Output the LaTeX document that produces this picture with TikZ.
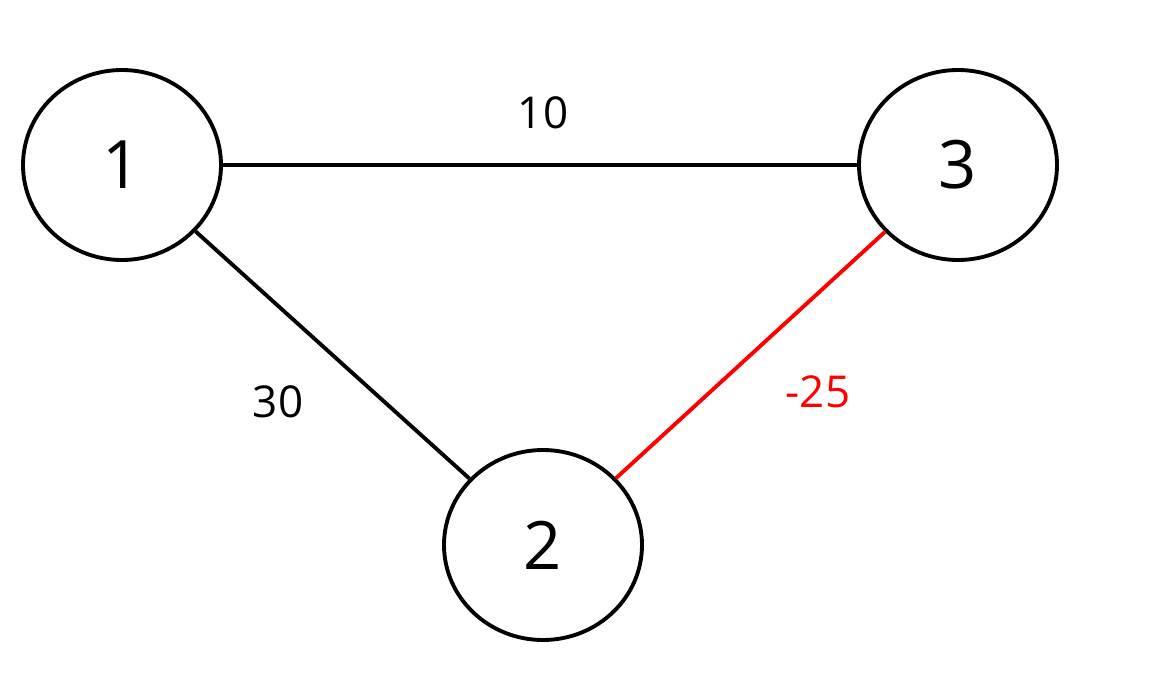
\documentclass[tikz,border=0pt]{standalone}
\usepackage{fontspec}
\setmainfont{Open Sans}
\usetikzlibrary{shapes.geometric}
\definecolor{rojoArista}{RGB}{255,0,0}

\begin{document}
\begin{tikzpicture}[
  vertice/.style={draw=black, ellipse, line width=2.2pt,
                  minimum width=3.96cm, minimum height=3.8cm,
                  inner sep=0pt, font=\fontsize{38}{40}\selectfont},
  arista/.style={draw=black, line width=2.2pt},
  peso/.style={font=\fontsize{25}{28}\selectfont}
]
\useasboundingbox (0,0) rectangle (22.98,13.9);

\node[vertice] (v1) at (2.44,10.6) {1};
\node[vertice] (v3) at (19.16,10.6) {3};
\node[vertice] (v2) at (10.86,3.0) {2};

\draw[arista] (v1) -- (v3);
\draw[arista] (v1) -- (v2);
\draw[arista, draw=rojoArista] (v3) -- (v2);

% Pesos de las aristas.
\node[peso] (p13) at (10.86,11.64) {10};
\node[peso] (p12) at (5.56,5.86) {30};
\node[peso, text=rojoArista] (p32) at (16.36,6.06) {-25};

\end{tikzpicture}
\end{document}
